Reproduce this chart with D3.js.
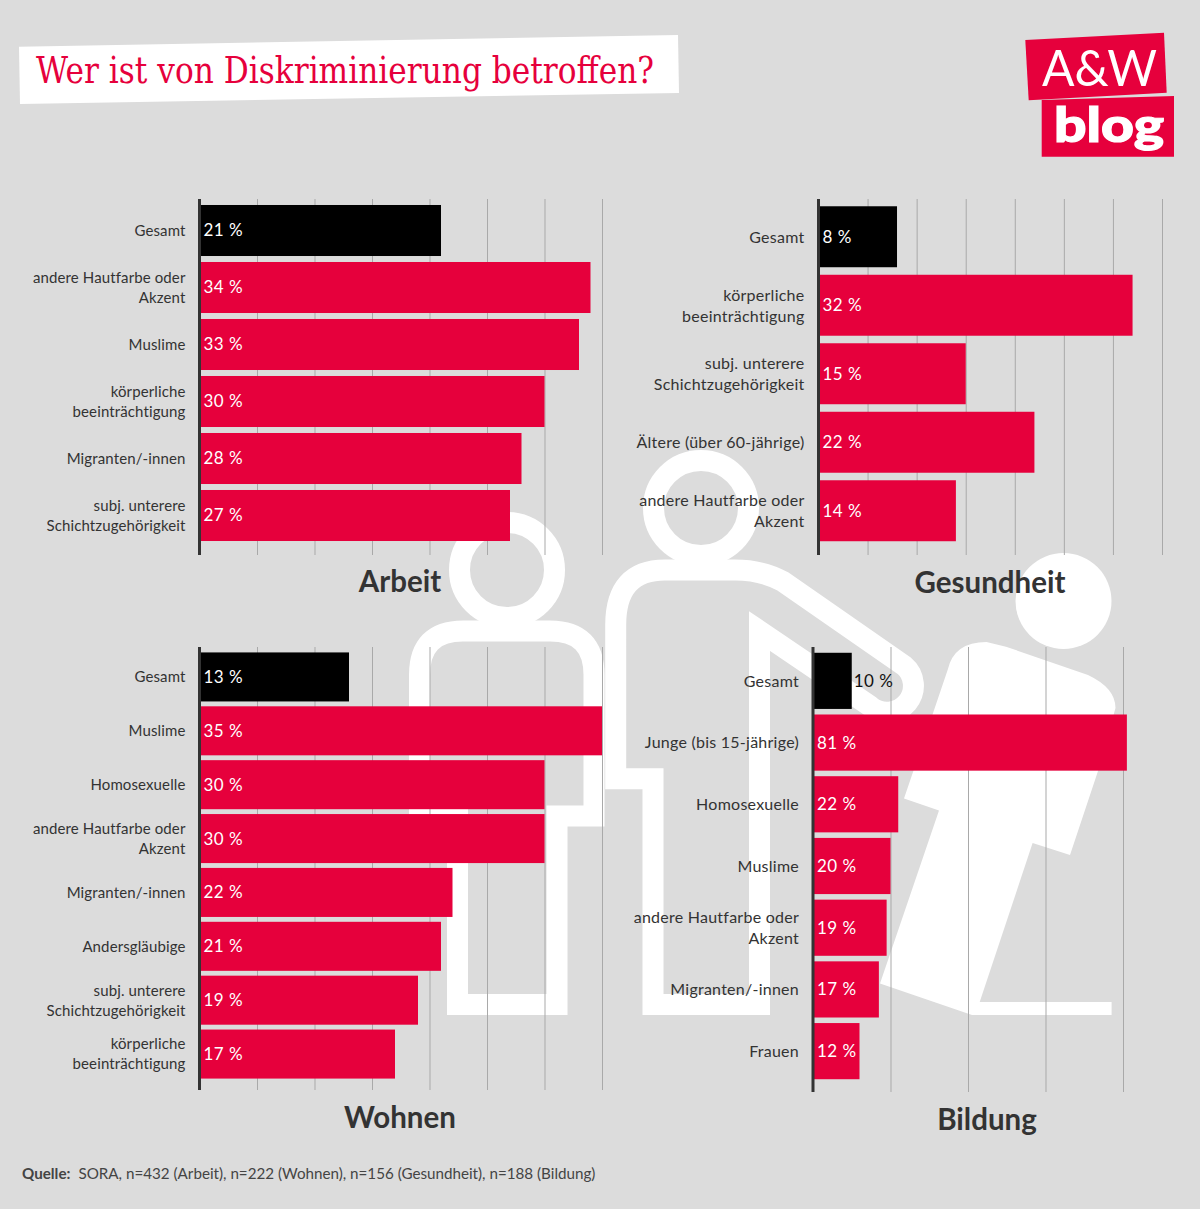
<!DOCTYPE html>
<html lang="de">
<head>
<meta charset="utf-8">
<title>Wer ist von Diskriminierung betroffen?</title>
<script src="https://cdn.jsdelivr.net/npm/d3@7"></script>
<style>
  html, body { margin: 0; padding: 0; background: #dcdcdc; }
  svg { display: block; }
  text { font-family: Lato, "Noto Sans", sans-serif; }
</style>
</head>
<body>
<div id="chart"></div>
<script>
// Daten
const arbeitCategories = ["Gesamt", "andere Hautfarbe oder\nAkzent", "Muslime", "körperliche\nbeeinträchtigung", "Migranten/-innen", "subj. unterere\nSchichtzugehörigkeit"];
const arbeitValues = [21, 34, 33, 30, 28, 27];

const gesundheitCategories = ["Gesamt", "körperliche\nbeeinträchtigung", "subj. unterere\nSchichtzugehörigkeit", "Ältere (über 60-jährige)", "andere Hautfarbe oder\nAkzent"];
const gesundheitValues = [8, 32, 15, 22, 14];

const wohnenCategories = ["Gesamt", "Muslime", "Homosexuelle", "andere Hautfarbe oder\nAkzent", "Migranten/-innen", "Andersgläubige", "subj. unterere\nSchichtzugehörigkeit", "körperliche\nbeeinträchtigung"];
const wohnenValues = [13, 35, 30, 30, 22, 21, 19, 17];

const bildungCategories = ["Gesamt", "Junge (bis 15-jährige)", "Homosexuelle", "Muslime", "andere Hautfarbe oder\nAkzent", "Migranten/-innen", "Frauen"];
const bildungValues = [10, 81, 22, 20, 19, 17, 12];

const ticks35 = [5, 10, 15, 20, 25, 30, 35];
const ticks80 = [20, 40, 60, 80];

const RED = "#e6003c";
const INK = "#333333";
const W = 1200, H = 1209;

const svg = d3.select("#chart").append("svg").attr("width", W).attr("height", H);
svg.append("rect").attr("width", W).attr("height", H).attr("fill", "#dcdcdc");

// Figuren im Hintergrund
const figures = svg.append("g");
const outline = { fill: "none", stroke: "#fff", "stroke-width": 21 };
function ring(cx, cy) {
  figures.append("circle").attr("cx", cx).attr("cy", cy).attr("r", 47.5)
    .attr("fill", "none").attr("stroke", "#fff").attr("stroke-width", 21);
}
function shape(d) {
  const p = figures.append("path").attr("d", d);
  Object.entries(outline).forEach(([k, v]) => p.attr(k, v));
}
ring(507, 570);
shape("M457.5 816 H419.5 V675 Q419.5 631 463 631 H550 Q594 631 594 675 V816 H557 V1004.5 H457.5 V816 Z");
ring(701, 508);
shape("M653 778.7 H615.7 V625 Q615.7 570 665 570 H735 Q762 570 783 581.5 L904 665.5 A26 26 0 0 1 870 706 L759.5 631 V1004.5 H653 Z");
figures.append("circle").attr("cx", 1063.5).attr("cy", 601).attr("r", 48).attr("fill", "#fff");
figures.append("path").attr("fill", "#fff")
  .attr("d", "M947.8 669.6 Q954 642 986.5 642 L1006 646.7 L1088 675 Q1115.5 688 1115.5 708 L1098 771 L1070 855 L1032.6 843 L979.7 1002 H1111.6 V1015 H972 L880 983.4 L939 810.5 L904 798.6 Z");

// Ein Panel zeichnen
function drawPanel(p) {
  const x = d3.scaleLinear().domain(p.domain).range([p.x0, p.x1]);
  const y = d3.scaleBand().domain(p.categories).range([p.y0, p.y1])
    .paddingInner(p.padding).paddingOuter(p.padding / 2);
  const g = svg.append("g");

  // Gitterlinien
  const grid = g.append("g")
    .attr("transform", `translate(0,${p.axisBottom})`)
    .call(d3.axisBottom(x).tickValues(p.ticks).tickSize(p.axisTop - p.axisBottom).tickFormat(""));
  grid.select(".domain").remove();
  grid.selectAll("line").attr("stroke", "#a9a9a9").attr("stroke-width", 1);

  // Balken
  g.selectAll(".bar").data(p.values).enter().append("rect")
    .attr("class", "bar")
    .attr("x", x(0))
    .attr("y", (d, i) => y(p.categories[i]))
    .attr("width", d => x(d) - x(0))
    .attr("height", y.bandwidth())
    .attr("fill", (d, i) => i === 0 ? "#000" : RED);

  // Werte
  g.selectAll(".value").data(p.values).enter().append("text")
    .attr("class", "value")
    .attr("x", d => x(d) - x(0) < 44 ? x(d) + 2 : x(0) + 4)
    .attr("y", (d, i) => y(p.categories[i]) + y.bandwidth() / 2)
    .attr("dy", "0.35em")
    .attr("font-size", 17)
    .attr("letter-spacing", 0.5)
    .attr("fill", d => x(d) - x(0) < 44 ? "#111" : "#fff")
    .text(d => d + " %");

  // Kategorien-Achse
  const yAxis = g.append("g")
    .attr("transform", `translate(${x(0)},0)`)
    .call(d3.axisLeft(y).tickSize(0).tickPadding(p.labelPad));
  yAxis.select(".domain").remove();
  yAxis.selectAll("text").each(function(d) {
    const lines = d.split("\n");
    const t = d3.select(this).attr("font-size", p.labelSize).attr("fill", INK).attr("dy", null)
      .attr("letter-spacing", p.labelSpacing).text(null);
    lines.forEach((line, i) => {
      t.append("tspan").attr("x", -p.labelPad)
        .attr("y", (i - (lines.length - 1) / 2) * p.lineHeight)
        .attr("dy", "0.36em").text(line);
    });
  });
  g.append("line")
    .attr("x1", x(0)).attr("x2", x(0))
    .attr("y1", p.axisTop).attr("y2", p.axisBottom)
    .attr("stroke", INK).attr("stroke-width", 3);

  g.append("text")
    .attr("x", p.titleX).attr("y", p.titleY)
    .attr("text-anchor", "middle")
    .attr("font-size", 29.5).attr("font-weight", 700).attr("fill", INK)
    .text(p.title);
}

[
  { title: "Arbeit", categories: arbeitCategories, values: arbeitValues, domain: [0, 35], ticks: ticks35,
    x0: 199.5, x1: 602, y0: 202, y1: 544, padding: 0.105, axisTop: 199, axisBottom: 555,
    labelPad: 14, labelSize: 15, labelSpacing: 0.12, lineHeight: 20, titleX: 400, titleY: 592 },
  { title: "Gesundheit", categories: gesundheitCategories, values: gesundheitValues, domain: [0, 35], ticks: ticks35,
    x0: 818.5, x1: 1162, y0: 202.5, y1: 545, padding: 0.11, axisTop: 199, axisBottom: 555,
    labelPad: 14, labelSize: 16, labelSpacing: 0.25, lineHeight: 21, titleX: 990, titleY: 593 },
  { title: "Wohnen", categories: wohnenCategories, values: wohnenValues, domain: [0, 35], ticks: ticks35,
    x0: 199.5, x1: 602, y0: 650, y1: 1081, padding: 0.09, axisTop: 647, axisBottom: 1090,
    labelPad: 14, labelSize: 15, labelSpacing: 0.12, lineHeight: 20, titleX: 400, titleY: 1128 },
  { title: "Bildung", categories: bildungCategories, values: bildungValues, domain: [0, 80], ticks: ticks80,
    x0: 813, x1: 1123, y0: 650, y1: 1082, padding: 0.09, axisTop: 647, axisBottom: 1092,
    labelPad: 14, labelSize: 16, labelSpacing: 0.25, lineHeight: 21, titleX: 987, titleY: 1130 }
].forEach(drawPanel);

// Titel
svg.append("path").attr("d", "M19 46.7 L678 35 L679 93 L20 104 Z").attr("fill", "#fff");
svg.append("text")
  .attr("x", 36).attr("y", 83)
  .attr("textLength", 618).attr("lengthAdjust", "spacingAndGlyphs")
  .style("font-family", "'DejaVu Serif', 'Liberation Serif', serif")
  .attr("font-size", 38).attr("fill", RED)
  .text("Wer ist von Diskriminierung betroffen?");

// Logo
svg.append("path").attr("d", "M1025.3 40 L1164 32.7 L1166.7 92.7 L1028.7 100.3 Z").attr("fill", RED);
svg.append("path").attr("d", "M1041.7 100 L1174 96 V156.7 H1041.7 Z").attr("fill", RED);
svg.append("text")
  .attr("x", 1042).attr("y", 86)
  .attr("textLength", 115).attr("lengthAdjust", "spacingAndGlyphs")
  .attr("font-size", 50).attr("font-weight", 400).attr("fill", "#fff")
  .text("A&W");
svg.append("text")
  .attr("x", 1054).attr("y", 142)
  .attr("textLength", 110).attr("lengthAdjust", "spacingAndGlyphs")
  .attr("font-size", 47).attr("font-weight", 900).attr("fill", "#fff")
  .attr("stroke", "#fff").attr("stroke-width", 1.2)
  .text("blog");

// Quelle
const source = svg.append("text").attr("x", 22).attr("y", 1179).attr("font-size", 15.2).attr("fill", "#444");
source.append("tspan").attr("font-weight", 700).text("Quelle:");
source.append("tspan").attr("dx", 8).text("SORA, n=432 (Arbeit), n=222 (Wohnen), n=156 (Gesundheit), n=188 (Bildung)");
</script>
</body>
</html>
